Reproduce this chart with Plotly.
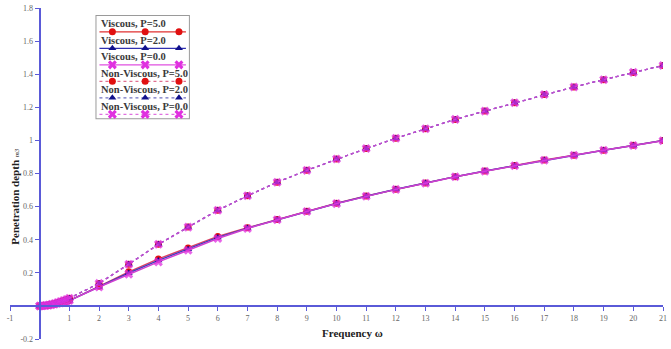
import plotly.graph_objects as go

# ---------------- data ----------------
freq = [0, 0.1, 0.2, 0.3, 0.4, 0.5, 0.6, 0.7, 0.8, 0.9, 1,
        2, 3, 4, 5, 6, 7, 8, 9, 10, 11, 12, 13, 14, 15, 16, 17, 18, 19, 20, 21]

visc_p5 = [0, 0.001, 0.002, 0.004, 0.007, 0.010, 0.014, 0.018, 0.022, 0.027, 0.032,
           0.118, 0.206, 0.284, 0.350, 0.420, 0.472, 0.522, 0.572, 0.620, 0.664,
           0.705, 0.743, 0.781, 0.815, 0.848, 0.881, 0.911, 0.941, 0.970, 0.999]
visc_p2 = [0, 0.001, 0.002, 0.004, 0.007, 0.010, 0.014, 0.018, 0.022, 0.027, 0.032,
           0.116, 0.199, 0.275, 0.343, 0.414, 0.470, 0.521, 0.571, 0.619, 0.663,
           0.705, 0.742, 0.781, 0.815, 0.847, 0.881, 0.911, 0.941, 0.969, 0.999]
visc_p0 = [0, 0.001, 0.002, 0.004, 0.007, 0.010, 0.014, 0.018, 0.022, 0.027, 0.032,
           0.114, 0.192, 0.266, 0.336, 0.407, 0.468, 0.520, 0.570, 0.618, 0.662,
           0.704, 0.741, 0.780, 0.814, 0.847, 0.880, 0.910, 0.940, 0.969, 0.998]
nonvisc_p5 = [0, 0.001, 0.003, 0.006, 0.010, 0.015, 0.020, 0.026, 0.032, 0.039, 0.046,
              0.136, 0.252, 0.372, 0.476, 0.578, 0.665, 0.747, 0.819, 0.887, 0.951,
              1.013, 1.071, 1.127, 1.177, 1.227, 1.277, 1.323, 1.367, 1.411, 1.453]
nonvisc_p2 = [0, 0.001, 0.003, 0.006, 0.010, 0.015, 0.020, 0.026, 0.032, 0.039, 0.046,
              0.136, 0.252, 0.372, 0.476, 0.578, 0.665, 0.747, 0.819, 0.887, 0.951,
              1.013, 1.071, 1.127, 1.177, 1.227, 1.277, 1.323, 1.367, 1.411, 1.453]
nonvisc_p0 = [0, 0.001, 0.003, 0.006, 0.010, 0.015, 0.020, 0.026, 0.032, 0.039, 0.046,
              0.136, 0.252, 0.372, 0.476, 0.578, 0.665, 0.747, 0.819, 0.887, 0.951,
              1.013, 1.071, 1.127, 1.177, 1.227, 1.277, 1.323, 1.367, 1.411, 1.453]

series_names = ["Viscous, P=5.0", "Viscous, P=2.0", "Viscous, P=0.0",
                "Non-Viscous, P=5.0", "Non-Viscous, P=2.0", "Non-Viscous, P=0.0"]
series_values = [visc_p5, visc_p2, visc_p0, nonvisc_p5, nonvisc_p2, nonvisc_p0]

x_tick_vals = [-1, 1, 2, 3, 4, 5, 6, 7, 8, 9, 10, 11, 12, 13, 14, 15, 16, 17, 18, 19, 20, 21]
x_tick_text = ["-1", "1", "2", "3", "4", "5", "6", "7", "8", "9", "10", "11", "12",
               "13", "14", "15", "16", "17", "18", "19", "20", "21"]
y_tick_vals = [-0.2, 0.2, 0.4, 0.6, 0.8, 1.0, 1.2, 1.4, 1.6, 1.8]
y_tick_text = ["-0.2", "0.2", "0.4", "0.6", "0.8", "1", "1.2", "1.4", "1.6", "1.8"]

# ---------------- styles ----------------
colors = ["#e01010", "#10108c", "#e030e0", "#e01010", "#10108c", "#e030e0"]
symbols = ["circle", "triangle-up", "x", "circle", "triangle-up", "x"]
msizes = [7, 7, 8, 7, 7, 8]
mopac = [1, 1, 0.75, 1, 1, 0.75]
dashes = ["solid", "solid", "solid", "dot", "dot", "dot"]
line_colors = ["#e04060", "#4040c0", "#d040d0", "#c050c0", "#8040c0", "#c050d0"]
leg_line_colors = ["#e03030", "#3030b0", "#e050e0", "#e07090", "#7070c0", "#e070e0"]
AXIS = "#5a5ad8"
SERIF = "Liberation Serif, Times New Roman, serif"

fig = go.Figure()

for name, vals, c, s, ms, mo, d, lc in zip(series_names, series_values, colors, symbols,
                                          msizes, mopac, dashes, line_colors):
    fig.add_trace(go.Scatter(
        x=freq, y=vals, mode="lines+markers", name=name, showlegend=False,
        line=dict(color=lc, width=1.5 if d == "solid" else 1.3, dash=d),
        marker=dict(symbol=s, size=ms, color=c, opacity=mo, line=dict(width=0)),
        xaxis="x", yaxis="y"))

# ---------------- custom legend (text above sample line, as in the reference) ----------------
leg_w, leg_h = 95, 105
leg_row = 16.6
sample_x = [17, 50, 84]
for i, (name, c, s, ms, d, llc) in enumerate(zip(series_names, colors, symbols, msizes,
                                                  dashes, leg_line_colors)):
    yline = 17 + leg_row * i
    fig.add_trace(go.Scatter(
        x=[4, 91], y=[yline, yline], mode="lines", showlegend=False, hoverinfo="skip",
        line=dict(color=llc, width=1.2, dash=d), xaxis="x2", yaxis="y2"))
    fig.add_trace(go.Scatter(
        x=sample_x, y=[yline] * 3, mode="markers", showlegend=False, hoverinfo="skip",
        marker=dict(symbol=s, size=ms, color=c, line=dict(width=0)),
        xaxis="x2", yaxis="y2"))
    fig.add_annotation(x=4, y=9 + leg_row * i, xref="x2", yref="y2", text="<b>" + name + "</b>",
                       showarrow=False, xanchor="left", yanchor="middle",
                       font=dict(family=SERIF, size=10.5, color="#3a3a3a"))

fig.add_shape(type="rect", xref="x2", yref="y2", x0=0, x1=leg_w, y0=0, y1=leg_h,
              line=dict(color="#9a9a9a", width=2), fillcolor="white", layer="below")

# ---------------- axis titles ----------------
fig.add_annotation(x=0.525, y=0.018, xref="paper", yref="paper", text="<b>Frequency ω</b>",
                   showarrow=False, xanchor="center", yanchor="middle",
                   font=dict(family=SERIF, size=11, color="#222"))
fig.add_annotation(x=0.0076, y=0.43, xref="paper", yref="paper",
                   text="<b>Penetration depth</b> <i><span style='font-size:7px'>m3</span></i>",
                   showarrow=False, textangle=-90, xanchor="center", yanchor="middle",
                   font=dict(family=SERIF, size=11, color="#222"))

# plot area: left 10, right 4, top 6, bottom 10 (px)
W, H = 671, 349
ml, mr, mt, mb = 10, 4, 6, 10
pw, ph = W - ml - mr, H - mt - mb
leg_x0 = (96 - ml) / pw
leg_x1 = (191 - ml) / pw
leg_y1 = 1 - (13 - mt) / ph
leg_y0 = 1 - (118 - mt) / ph

fig.update_layout(
    width=W, height=H, margin=dict(l=ml, r=mr, t=mt, b=mb),
    paper_bgcolor="white", plot_bgcolor="white", showlegend=False,
    xaxis=dict(range=[-1, 21], anchor="free", position=(0 - (-0.2)) / 2.0,
               showline=True, linecolor=AXIS, linewidth=2, zeroline=False, showgrid=False,
               tickvals=x_tick_vals, ticktext=x_tick_text, ticks="outside", ticklen=4,
               tickcolor=AXIS, tickwidth=1,
               tickfont=dict(family=SERIF, size=8, color="#666")),
    yaxis=dict(range=[-0.2, 1.8], anchor="free", position=(0 - (-1)) / 22.0,
               showline=True, linecolor=AXIS, linewidth=2, zeroline=False, showgrid=False,
               tickvals=y_tick_vals, ticktext=y_tick_text, ticks="outside", ticklen=4,
               tickcolor=AXIS, tickwidth=1,
               tickfont=dict(family=SERIF, size=8, color="#666")),
    xaxis2=dict(domain=[leg_x0, leg_x1], range=[0, leg_w], anchor="y2", visible=False, fixedrange=True),
    yaxis2=dict(domain=[leg_y0, leg_y1], range=[leg_h, 0], anchor="x2", visible=False, fixedrange=True),
)

fig.write_html("out.html")
